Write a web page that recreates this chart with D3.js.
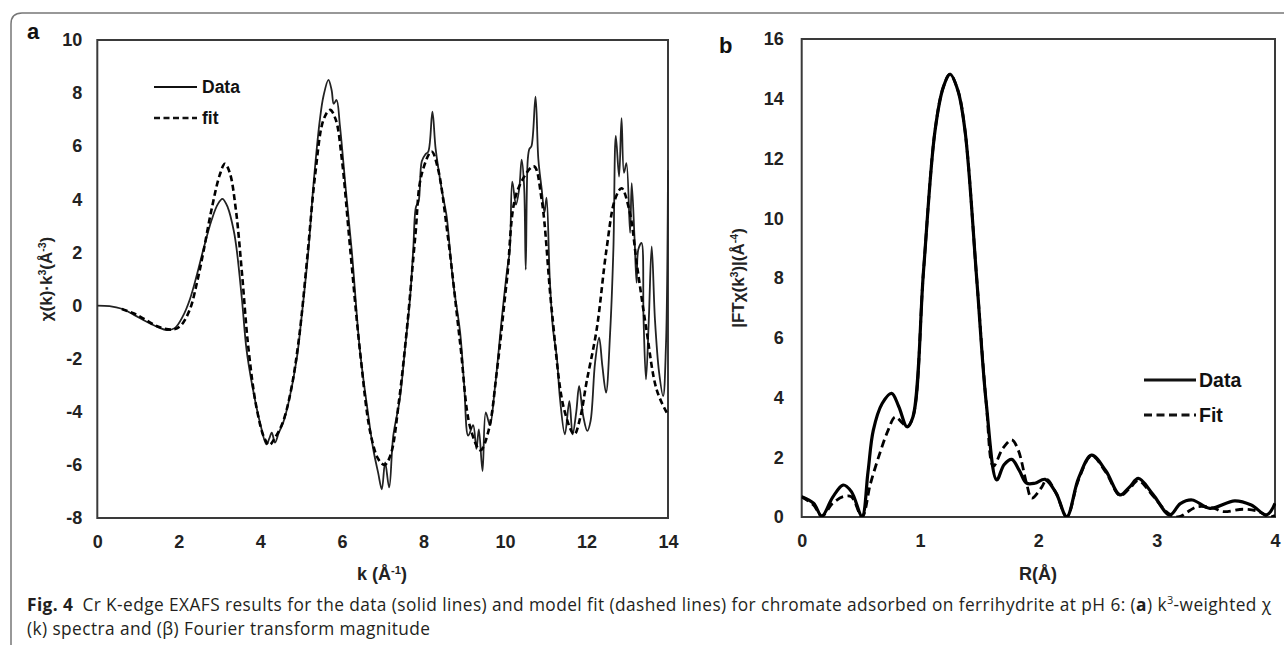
<!DOCTYPE html>
<html>
<head>
<meta charset="utf-8">
<script src="https://cdn.jsdelivr.net/npm/d3@7"></script>
<style>
  html, body { margin: 0; padding: 0; background: #fff; }
  svg { display: block; }
  .tick text { font-family: "Liberation Sans", Arial, sans-serif; font-weight: bold; font-size: 18px; fill: #222; }
</style>
</head>
<body>
<svg id="chart" width="1284" height="645"></svg>
<script>
// ---------- Panel a: k^3-weighted chi(k) ----------
const kData = [0, 0.3, 0.6, 0.9, 1.2, 1.5, 1.7, 1.9, 2.1, 2.27, 2.45, 2.6, 2.8, 2.95, 3.07, 3.2, 3.35, 3.42, 3.55, 3.66, 3.8, 3.99, 4.15, 4.22, 4.28, 4.36, 4.45, 4.56, 4.7, 4.89, 5.0, 5.18, 5.3, 5.46, 5.55, 5.67, 5.75, 5.8, 5.87, 5.95, 6.1, 6.24, 6.44, 6.6, 6.77, 6.89, 6.98, 7.06, 7.16, 7.26, 7.42, 7.55, 7.67, 7.75, 7.82, 7.88, 7.96, 8.05, 8.12, 8.22, 8.3, 8.45, 8.57, 8.65, 8.73, 8.9, 9.0, 9.1, 9.22, 9.3, 9.36, 9.45, 9.53, 9.63, 9.75, 9.92, 10.05, 10.12, 10.18, 10.27, 10.35, 10.41, 10.47, 10.51, 10.56, 10.6, 10.65, 10.75, 10.82, 10.9, 10.97, 11.02, 11.1, 11.18, 11.27, 11.35, 11.47, 11.58, 11.66, 11.75, 11.82, 11.92, 12.02, 12.1, 12.21, 12.31, 12.39, 12.48, 12.58, 12.66, 12.72, 12.8, 12.86, 12.92, 12.98, 13.07, 13.11, 13.18, 13.23, 13.27, 13.35, 13.4, 13.46, 13.53, 13.6, 13.68, 13.78, 13.88, 13.95, 14.0];
const chiData = [0, -0.02, -0.12, -0.35, -0.6, -0.82, -0.92, -0.85, -0.4, 0.23, 1.2, 2.1, 3.2, 3.8, 4.02, 3.7, 2.8, 2.1, 0.2, -1.65, -3.0, -4.4, -5.23, -5.0, -4.79, -5.16, -4.8, -4.41, -3.6, -2.03, -0.6, 2.1, 4.5, 7.0, 7.9, 8.5, 8.1, 7.6, 7.74, 6.8, 4.3, 2.1, -1.65, -3.6, -5.41, -6.3, -6.92, -5.91, -6.85, -4.91, -3.53, -1.6, 0.23, 2.1, 3.73, 3.9, 5.43, 5.7, 5.8, 7.3, 5.9, 4.36, 3.36, 2.1, 0.86, -1.0, -3.0, -4.9, -4.5, -5.4, -4.66, -6.23, -4.02, -4.5, -3.16, -0.53, 1.3, 2.1, 4.67, 3.8, 4.4, 5.49, 4.5, 1.35, 5.5, 5.9, 6.0, 7.87, 5.5, 4.4, 3.5, 4.06, 1.0, -0.9, -1.9, -3.5, -4.85, -3.6, -4.85, -4.0, -3.03, -4.16, -4.72, -4.35, -2.16, -1.21, -2.28, -3.28, -1.03, 2.1, 6.39, 4.86, 7.06, 5.0, 5.36, 2.74, 4.61, 2.5, 0.86, 2.1, 2.36, -0.5, -2.78, -0.5, 2.23, -0.53, -2.5, -3.41, -1.5, 5.1];
const kFit = [0.6, 0.9, 1.2, 1.5, 1.86, 2.05, 2.27, 2.45, 2.6, 2.8, 3.0, 3.13, 3.25, 3.4, 3.55, 3.7, 3.9, 4.1, 4.22, 4.35, 4.55, 4.75, 4.95, 5.15, 5.35, 5.55, 5.71, 5.85, 6.0, 6.2, 6.45, 6.7, 6.9, 7.05, 7.2, 7.4, 7.6, 7.8, 7.95, 8.2, 8.35, 8.6, 8.9, 9.15, 9.4, 9.6, 9.8, 10.05, 10.3, 10.71, 10.9, 11.15, 11.45, 11.7, 11.85, 12.0, 12.25, 12.49, 12.7, 12.86, 13.05, 13.25, 13.47, 13.72, 13.97, 14.0];
const chiFit = [-0.13, -0.3, -0.55, -0.8, -0.9, -0.75, -0.15, 0.9, 2.0, 3.6, 4.9, 5.34, 5.0, 3.6, 1.2, -1.5, -3.8, -5.0, -5.25, -5.0, -4.4, -3.2, -1.2, 1.8, 5.0, 7.0, 7.37, 7.0, 5.5, 2.2, -1.8, -4.8, -5.8, -6.0, -5.6, -3.6, -0.8, 2.6, 4.9, 5.8, 5.2, 2.6, -1.4, -4.6, -5.45, -4.7, -2.5, 1.0, 4.3, 5.24, 4.0, -0.2, -3.9, -4.85, -4.2, -2.9, -0.9, 2.1, 4.0, 4.42, 3.6, 1.4, -0.9, -3.16, -4.03, -4.1];
const kTicks = [0, 2, 4, 6, 8, 10, 12, 14];
const chiTicks = [-8, -6, -4, -2, 0, 2, 4, 6, 8, 10];

// ---------- Panel b: Fourier transform magnitude ----------
const rData = [0, 0.1, 0.17, 0.26, 0.35, 0.42, 0.51, 0.56, 0.605, 0.68, 0.76, 0.82, 0.89, 0.94, 1.03, 1.127, 1.197, 1.254, 1.32, 1.38, 1.48, 1.56, 1.648, 1.71, 1.775, 1.84, 1.9, 1.97, 2.057, 2.15, 2.24, 2.34, 2.45, 2.57, 2.69, 2.77, 2.845, 2.97, 3.11, 3.2, 3.3, 3.45, 3.66, 3.8, 3.93, 4.0];
const ftData = [0.68, 0.46, 0.03, 0.65, 1.07, 0.85, 0.03, 1.5, 2.9, 3.8, 4.14, 3.7, 3.02, 3.35, 8.26, 12.94, 14.39, 14.82, 14.28, 12.94, 7.93, 3.8, 1.24, 1.75, 1.93, 1.55, 1.13, 1.13, 1.26, 0.8, 0.01, 1.3, 2.07, 1.55, 0.74, 1.0, 1.29, 0.75, 0.07, 0.45, 0.57, 0.29, 0.54, 0.4, 0.07, 0.46];
const rFit = [0, 0.1, 0.17, 0.26, 0.35, 0.42, 0.51, 0.58, 0.66, 0.73, 0.79, 0.85, 0.89, 0.94, 1.03, 1.127, 1.197, 1.254, 1.32, 1.38, 1.48, 1.56, 1.62, 1.7, 1.775, 1.83, 1.9, 1.944, 2.03, 2.07, 2.15, 2.24, 2.34, 2.45, 2.57, 2.69, 2.77, 2.845, 2.97, 3.1, 3.18, 3.34, 3.48, 3.56, 3.73, 3.85, 3.96, 4.0];
const ftFit = [0.68, 0.4, 0.03, 0.45, 0.68, 0.68, 0.0, 1.1, 2.13, 2.9, 3.35, 3.15, 3.02, 3.35, 8.26, 12.94, 14.39, 14.82, 14.28, 12.94, 7.93, 3.8, 1.7, 2.3, 2.58, 2.24, 1.13, 0.63, 1.01, 1.26, 0.8, 0.01, 1.25, 2.05, 1.5, 0.72, 0.95, 1.22, 0.7, 0.12, 0.0, 0.34, 0.3, 0.18, 0.26, 0.2, 0.0, 0.05];
const rTicks = [0, 1, 2, 3, 4];
const ftTicks = [0, 2, 4, 6, 8, 10, 12, 14, 16];

const svg = d3.select("#chart");
const fontBold = '"Liberation Sans", Arial, sans-serif';

// figure frame (rounded top-left corner)
svg.append("path")
  .attr("d", "M11,660 L11,24 Q11,13 22,13 L1300,13")
  .attr("fill", "none").attr("stroke", "#777").attr("stroke-width", 1.5);

function panel(opt) {
  const x = d3.scaleLinear().domain(opt.xDomain).range([opt.left, opt.right]);
  const y = d3.scaleLinear().domain(opt.yDomain).range([opt.bottom, opt.top]);
  const g = svg.append("g");

  g.append("g").attr("transform", `translate(${opt.left},0)`)
    .call(d3.axisLeft(y).tickValues(opt.yTicks).tickSize(0).tickPadding(opt.yPad).tickFormat(d => String(d)))
    .call(a => a.select(".domain").remove());
  g.append("g").attr("transform", `translate(0,${opt.bottom})`)
    .call(d3.axisBottom(x).tickValues(opt.xTicks).tickSize(0).tickPadding(17).tickFormat(d => String(d)))
    .call(a => a.select(".domain").remove());

  g.append("rect")
    .attr("x", x.range()[0]).attr("y", y.range()[1])
    .attr("width", x.range()[1] - x.range()[0])
    .attr("height", y.range()[0] - y.range()[1])
    .attr("fill", "none").attr("stroke", "#3a3a3a").attr("stroke-width", 2);

  const line = d3.line().x(d => x(d[0])).y(d => y(d[1])).curve(d3.curveCatmullRom.alpha(0.5));
  const clipId = "clip" + opt.id;
  svg.append("clipPath").attr("id", clipId).append("rect")
    .attr("x", opt.left).attr("y", opt.top - 5).attr("width", opt.right - opt.left + 1).attr("height", opt.bottom - opt.top + 5);

  g.append("path").datum(d3.zip(opt.xs1, opt.ys1))
    .attr("clip-path", `url(#${clipId})`)
    .attr("d", line).attr("fill", "none")
    .attr("stroke", opt.dataColor).attr("stroke-width", opt.dataWidth).attr("stroke-linejoin", "round");
  g.append("path").datum(d3.zip(opt.xs2, opt.ys2))
    .attr("clip-path", `url(#${clipId})`)
    .attr("d", line).attr("fill", "none")
    .attr("stroke", "#000").attr("stroke-width", opt.fitWidth).attr("stroke-dasharray", opt.dash);
  return { x, y, g };
}

const pa = panel({
  id: "a", xDomain: [0, 14], yDomain: [-8, 10], left: 97.3, right: 668, top: 40, bottom: 518,
  xTicks: kTicks, yTicks: chiTicks, yPad: 15,
  xs1: kData, ys1: chiData, xs2: kFit, ys2: chiFit,
  dataColor: "#222", dataWidth: 1.8, fitWidth: 2.6, dash: "6,3.5"
});
const pb = panel({
  id: "b", xDomain: [0, 4], yDomain: [0, 16], left: 801.7, right: 1275, top: 39, bottom: 517,
  xTicks: rTicks, yTicks: ftTicks, yPad: 18,
  xs1: rData, ys1: ftData, xs2: rFit, ys2: ftFit,
  dataColor: "#000", dataWidth: 3.2, fitWidth: 2.8, dash: "8,4.5"
});

// panel letters
svg.append("text").attr("x", 27).attr("y", 39).text("a")
  .attr("font-family", fontBold).attr("font-weight", "bold").attr("font-size", 22).attr("fill", "#111");
svg.append("text").attr("x", 719).attr("y", 53).text("b")
  .attr("font-family", fontBold).attr("font-weight", "bold").attr("font-size", 22).attr("fill", "#111");

function label(x, y, rot, parts, size) {
  const t = svg.append("text")
    .attr("transform", `translate(${x},${y}) rotate(${rot})`)
    .attr("text-anchor", "middle")
    .attr("font-family", fontBold).attr("font-weight", "bold").attr("font-size", size).attr("fill", "#222");
  parts.forEach(p => {
    const s = t.append("tspan").text(p.t);
    if (p.sup) s.attr("font-size", size * 0.62).attr("baseline-shift", "super");
  });
  return t;
}
// axis titles
label(382, 580, 0, [{ t: "k (Å" }, { t: "-1", sup: true }, { t: ")" }], 18);
label(1038, 580, 0, [{ t: "R(Å)" }], 18);
label(52, 279, -90, [{ t: "χ(k)·k" }, { t: "3", sup: true }, { t: "(Å" }, { t: "-3", sup: true }, { t: ")" }], 17);
label(744, 278, -90, [{ t: "|FTχ(k" }, { t: "3", sup: true }, { t: ")|(Å" }, { t: "-4", sup: true }, { t: ")" }], 17);

// legends
function legend(x0, x1, yy, tx, items, size, width, dashes) {
  items.forEach((it, i) => {
    const yv = yy[i];
    svg.append("line").attr("x1", x0).attr("x2", x1).attr("y1", yv).attr("y2", yv)
      .attr("stroke", "#111").attr("stroke-width", width[i]).attr("stroke-dasharray", dashes[i]);
    svg.append("text").attr("x", tx).attr("y", yv + size * 0.36).text(it)
      .attr("font-family", fontBold).attr("font-weight", "bold").attr("font-size", size).attr("fill", "#111");
  });
}
legend(154, 197, [87, 118], 202, ["Data", "fit"], 17.5, [1.8, 2.6], [null, "6,3.5"]);
legend(1144, 1196, [380, 415], 1199, ["Data", "Fit"], 19.5, [3.2, 2.8], [null, "8,4.5"]);

// caption
const capFont = '"Open Sans", "Noto Sans", sans-serif';
const capSize = 17.3;
const cap1 = svg.append("text").attr("x", 27).attr("y", 611)
  .attr("font-family", capFont).attr("font-size", capSize).attr("letter-spacing", 0.42).attr("fill", "#231f20");
cap1.append("tspan").attr("font-weight", "bold").text("Fig. 4");
cap1.append("tspan").text("\u2002Cr K-edge EXAFS results for the data (solid lines) and model fit (dashed lines) for chromate adsorbed on ferrihydrite at pH 6: (");
cap1.append("tspan").attr("font-weight", "bold").text("a");
cap1.append("tspan").text(") k");
cap1.append("tspan").attr("font-size", 11).attr("baseline-shift", "super").text("3");
cap1.append("tspan").text("-weighted χ");
svg.append("text").attr("x", 27).attr("y", 635)
  .attr("font-family", capFont).attr("font-size", capSize).attr("letter-spacing", 0.42).attr("fill", "#231f20")
  .text("(k) spectra and (β) Fourier transform magnitude");
</script>
</body>
</html>
